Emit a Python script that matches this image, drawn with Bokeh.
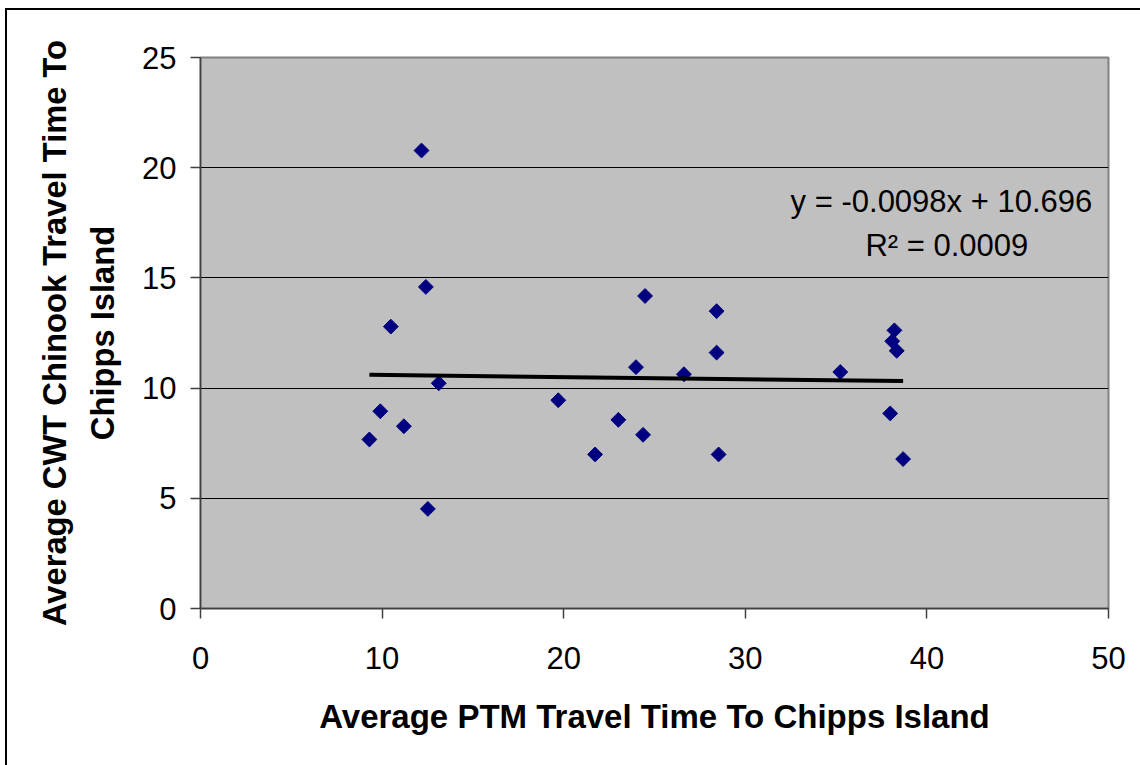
import numpy as np
from bokeh.plotting import figure
from bokeh.models import Label, FixedTicker, ColumnDataSource
from bokeh.embed import file_html
from bokeh.resources import INLINE

# ---- data ----
ptm_time = [9.30, 9.90, 10.48, 11.20, 12.17, 12.41, 12.52, 13.12, 19.70, 21.73,
            23.01, 23.98, 24.37, 24.48, 26.62, 28.42, 28.42, 28.53, 35.23, 37.98,
            38.21, 38.09, 38.34, 38.69]
cwt_time = [7.67, 8.95, 12.79, 8.27, 20.78, 14.59, 4.52, 10.22, 9.45, 6.99,
            8.56, 10.95, 7.88, 14.18, 10.63, 13.49, 11.61, 6.99, 10.73, 8.85,
            12.62, 12.13, 11.69, 6.78]
slope = -0.0098
intercept = 10.696
r_squared = "0.0009"
x_ticks = [0, 10, 20, 30, 40, 50]
y_ticks = [0, 5, 10, 15, 20, 25]

FONT = "Liberation Sans"

p = figure(width=1140, height=765, x_range=(0, 50), y_range=(0, 25),
           output_backend="svg", toolbar_location=None,
           min_border_left=200, min_border_right=32,
           min_border_top=57, min_border_bottom=157)

p.background_fill_color = "#C0C0C0"
p.border_fill_color = None
p.outline_line_color = "#808080"
p.outline_line_width = 2
p.styles = {"box-shadow": "inset 5px 8px 0 0 white, inset 7px 10px 0 0 black"}

# grid
p.xgrid.visible = False
p.ygrid.ticker = FixedTicker(ticks=[5, 10, 15, 20])
p.ygrid.grid_line_color = "black"
p.ygrid.grid_line_width = 1

# axes
for ax in (p.xaxis[0], p.yaxis[0]):
    ax.axis_line_color = "#404040"
    ax.axis_line_width = 1.5
    ax.major_tick_line_color = "#404040"
    ax.major_tick_line_width = 1.5
    ax.major_tick_out = 10
    ax.major_tick_in = 0
    ax.minor_tick_line_color = None
    ax.major_label_text_font = FONT
    ax.major_label_text_font_size = "31px"
    ax.major_label_text_color = "black"

p.xaxis.ticker = FixedTicker(ticks=x_ticks)
p.yaxis.ticker = FixedTicker(ticks=y_ticks)
p.xaxis.major_label_standoff = 28
p.yaxis.major_label_standoff = 14

p.xaxis.axis_label = "Average PTM Travel Time To Chipps Island"
p.xaxis.axis_label_text_font = FONT
p.xaxis.axis_label_text_font_size = "33px"
p.xaxis.axis_label_text_font_style = "bold"
p.xaxis.axis_label_text_color = "black"
p.xaxis.axis_label_standoff = 26

p.yaxis.axis_label = "Average CWT Chinook Travel Time To\nChipps Island"
p.yaxis.axis_label_text_font = FONT
p.yaxis.axis_label_text_font_size = "32.7px"
p.yaxis.axis_label_text_font_style = "bold"
p.yaxis.axis_label_text_color = "black"
p.yaxis.axis_label_text_line_height = 1.3
p.yaxis.axis_label_standoff = 18

# points
src = ColumnDataSource(dict(x=ptm_time, y=cwt_time))
p.scatter("x", "y", source=src, marker="square", angle=np.pi / 4, size=10.5,
          fill_color="#000080", line_color="#000080")

# trend line
xmin, xmax = min(ptm_time), max(ptm_time)
tx = [xmin, xmax]
ty = [slope * v + intercept for v in tx]
p.line(tx, ty, line_color="black", line_width=4)

# equation text
eq = Label(x=40.8, y=18.45, text=f"y = {slope}x + {intercept}",
           text_align="center", text_baseline="alphabetic",
           text_font=FONT, text_font_size="31px", text_color="black")
r2 = Label(x=41.1, y=16.48, text=f"R\u00b2 = {r_squared}",
           text_align="center", text_baseline="alphabetic",
           text_font=FONT, text_font_size="31px", text_color="black")
p.add_layout(eq)
p.add_layout(r2)

open("out.html", "w").write(file_html(p, INLINE))
